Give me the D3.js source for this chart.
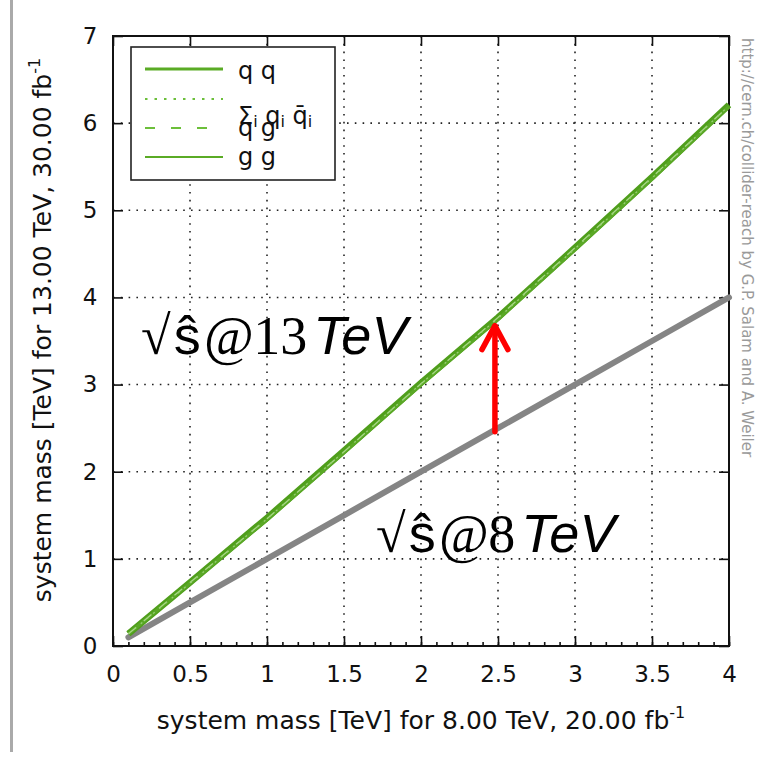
<!DOCTYPE html>
<html>
<head>
<meta charset="utf-8">
<script src="https://cdn.jsdelivr.net/npm/d3@7"></script>
<style>
  html, body { margin: 0; padding: 0; background: #fff; }
  svg { display: block; }
</style>
</head>
<body>
<svg id="chart" width="765" height="764"></svg>
<script>
// ---- data ----
const massX = [0.1, 0.5, 1.0, 1.5, 2.0, 2.5, 3.0, 3.5, 4.0];
const qqY   = [0.14, 0.72, 1.45, 2.22, 3.00, 3.75, 4.55, 5.36, 6.19];
const qqbarY= [0.14, 0.72, 1.46, 2.23, 3.01, 3.76, 4.56, 5.37, 6.20];
const qgY   = [0.14, 0.73, 1.46, 2.23, 3.01, 3.77, 4.57, 5.38, 6.20];
const ggY   = [0.14, 0.73, 1.47, 2.24, 3.02, 3.77, 4.57, 5.38, 6.21];
const refY  = [0.1, 0.5, 1.0, 1.5, 2.0, 2.5, 3.0, 3.5, 4.0];
const xTicks = [0, 0.5, 1, 1.5, 2, 2.5, 3, 3.5, 4];
const xTickLabels = ["0", "0.5", "1", "1.5", "2", "2.5", "3", "3.5", "4"];
const yTicks = [0, 1, 2, 3, 4, 5, 6, 7];
const arrowX = 2.48, arrowFrom = 2.46, arrowTo = 3.70;
const legendLabels = ["q q", "Σi qi q̄i", "q g", "g g"];

// ---- layout ----
const svg = d3.select("#chart");
const L = 113, R = 729, T = 36, B = 646;
const x = d3.scaleLinear().domain([0, 4]).range([L, R]);
const y = d3.scaleLinear().domain([0, 7]).range([B, T]);
const green = "#4f9e1b";

// left slide bar
svg.append("rect").attr("x", 10).attr("y", 0).attr("width", 3).attr("height", 752).attr("fill", "#aaaaaa");

// grid
const g = svg.append("g");
g.selectAll(".gx").data(xTicks.slice(1, -1)).join("line")
  .attr("x1", d => x(d)).attr("x2", d => x(d)).attr("y1", B).attr("y2", T)
  .attr("stroke", "#222").attr("stroke-width", 1.6).attr("stroke-dasharray", "1.6,6.2");
g.selectAll(".gy").data(yTicks.slice(1, -1)).join("line")
  .attr("y1", d => y(d)).attr("y2", d => y(d)).attr("x1", L).attr("x2", R)
  .attr("stroke", "#222").attr("stroke-width", 1.6).attr("stroke-dasharray", "1.6,6.2");

// axes with inward ticks
const axB = d3.axisBottom(x).tickValues(xTicks).tickSize(-10).tickFormat((d, i) => xTickLabels[i]);
const axL = d3.axisLeft(y).tickValues(yTicks).tickSize(-10).tickFormat(d3.format("d"));
const axT = d3.axisTop(x).tickValues(xTicks).tickSize(-10).tickFormat("");
const axR = d3.axisRight(y).tickValues(yTicks).tickSize(-10).tickFormat("");
const axMinor = d3.axisBottom(x).tickValues(d3.range(0, 4.01, 0.1)).tickSize(-4).tickFormat("");

function styleAxis(sel) {
  sel.select(".domain").remove();
  sel.selectAll(".tick line").attr("stroke", "#111").attr("stroke-width", 1.6);
  sel.selectAll("text").attr("fill", "#111").attr("font-family", "DejaVu Sans").attr("font-size", 23);
}
svg.append("g").attr("transform", `translate(0,${B})`).call(axMinor).call(styleAxis);
svg.append("g").attr("transform", `translate(0,${B})`).call(axB).call(styleAxis)
  .selectAll("text").attr("dy", "1.45em");
svg.append("g").attr("transform", `translate(${L},0)`).call(axL).call(styleAxis)
  .selectAll("text").attr("dx", "-0.55em");
svg.append("g").attr("transform", `translate(0,${T})`).call(axT).call(styleAxis);
svg.append("g").attr("transform", `translate(${R},0)`).call(axR).call(styleAxis);

// frame
svg.append("rect").attr("x", L).attr("y", T).attr("width", R - L).attr("height", B - T)
  .attr("fill", "none").attr("stroke", "#111").attr("stroke-width", 2);

// lines
const line = d3.line().x(d => x(d[0])).y(d => y(d[1]));
const zip = ys => massX.map((v, i) => [v, ys[i]]);
const plot = svg.append("g");
plot.append("path").attr("d", line(zip(refY))).attr("fill", "none")
  .attr("stroke", "#858585").attr("stroke-width", 6).attr("stroke-linecap", "round");
plot.append("path").attr("d", line(zip(ggY))).attr("fill", "none")
  .attr("stroke", green).attr("stroke-width", 6.5);
plot.append("path").attr("d", line(zip(qqY))).attr("fill", "none")
  .attr("stroke", "#5aa826").attr("stroke-width", 3.5);
plot.append("path").attr("d", line(zip(qgY))).attr("fill", "none")
  .attr("stroke", "#a8d888").attr("stroke-width", 1.3).attr("stroke-dasharray", "10,10");
plot.append("path").attr("d", line(zip(qqbarY))).attr("fill", "none")
  .attr("stroke", "#98cf74").attr("stroke-width", 1.3).attr("stroke-dasharray", "2,6");

// arrow
const ax = x(arrowX), a0 = y(arrowFrom), a1 = y(arrowTo);
const arrow = svg.append("g").attr("stroke", "#ff0000").attr("stroke-width", 5.5)
  .attr("stroke-linecap", "round").attr("stroke-linejoin", "round").attr("fill", "none");
arrow.append("line").attr("x1", ax).attr("x2", ax).attr("y1", a0).attr("y2", a1 + 3);
arrow.append("path").attr("d", `M${ax - 13},${a1 + 26} L${ax},${a1 + 2} L${ax + 13},${a1 + 26}`);

// legend
const lg = svg.append("g");
lg.append("rect").attr("x", 131).attr("y", 47).attr("width", 204).attr("height", 133)
  .attr("fill", "#fff").attr("stroke", "#222").attr("stroke-width", 1.6);
const legY = [69, 99, 128, 157];
const legStyles = [
  { w: 3, dash: null, c: "#5aab25" },
  { w: 1.8, dash: "2.5,7", c: "#6cbf3a" },
  { w: 1.8, dash: "10,16", c: "#6cbf3a" },
  { w: 2.2, dash: null, c: "#5aab25" }
];
legStyles.forEach((s, i) => {
  const l = lg.append("line").attr("x1", 145).attr("x2", 223).attr("y1", legY[i]).attr("y2", legY[i])
    .attr("stroke", s.c).attr("stroke-width", s.w);
  if (s.dash) l.attr("stroke-dasharray", s.dash);
});
const legText = lg.append("g").attr("font-family", "DejaVu Sans").attr("font-size", 24).attr("fill", "#111");
legText.append("text").attr("x", 238).attr("y", 79).text(legendLabels[0]);
const sumT = legText.append("text").attr("x", 238).attr("y", 124);
sumT.append("tspan").text("Σ");
sumT.append("tspan").attr("font-size", 16).attr("dy", 3).text("i");
sumT.append("tspan").attr("dy", -3).text(" q");
sumT.append("tspan").attr("font-size", 16).attr("dy", 3).text("i");
sumT.append("tspan").attr("dy", -3).text(" q̄");
sumT.append("tspan").attr("font-size", 16).attr("dy", 3).text("i");
legText.append("text").attr("x", 238).attr("y", 136).text(legendLabels[2]);
legText.append("text").attr("x", 238).attr("y", 165).text(legendLabels[3]);

// axis titles
const xt = svg.append("text").attr("x", 421).attr("y", 729).attr("text-anchor", "middle")
  .attr("font-family", "DejaVu Sans").attr("font-size", 25).attr("fill", "#111");
xt.append("tspan").text("system mass [TeV] for 8.00 TeV, 20.00 fb");
xt.append("tspan").attr("font-size", 16).attr("dy", -11).text("-1");

const yt = svg.append("text").attr("transform", "translate(51,330) rotate(-90)").attr("text-anchor", "middle")
  .attr("font-family", "DejaVu Sans").attr("font-size", 25).attr("fill", "#111");
yt.append("tspan").text("system mass [TeV] for 13.00 TeV, 30.00 fb");
yt.append("tspan").attr("font-size", 16).attr("dy", -11).text("-1");

// credit
svg.append("text").attr("transform", "translate(742,38) rotate(90)")
  .attr("font-family", "DejaVu Sans").attr("font-size", 15).attr("fill", "#9a9a9a")
  .text("http://cern.ch/collider-reach by G.P. Salam and A. Weiler");

// big annotations
function annot(px, py, num) {
  const t = svg.append("text").attr("x", px).attr("y", py).attr("fill", "#000").attr("font-size", 54);
  t.append("tspan").attr("font-family", "Liberation Serif").text("√");
  t.append("tspan").attr("font-family", "Liberation Sans").attr("dx", 3).text("ŝ");
  t.append("tspan").attr("font-family", "Liberation Serif").attr("font-style", "italic").attr("dx", 3).text("@");
  t.append("tspan").attr("font-family", "Liberation Serif").text(num);
  t.append("tspan").attr("font-family", "Liberation Sans").attr("font-style", "italic").attr("dx", 6).text("TeV");
}
annot(141, 354, "13");
annot(376, 552, "8");
</script>
</body>
</html>
